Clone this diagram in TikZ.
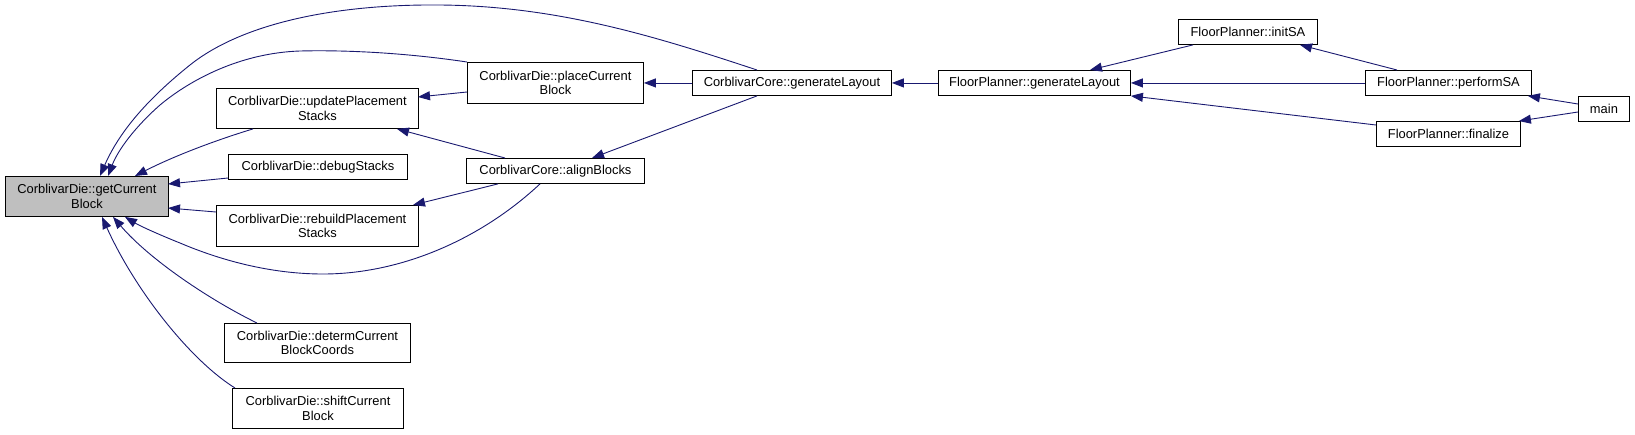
\documentclass[tikz,border=0pt]{standalone}
\usepackage{fontspec}
\setmainfont{Liberation Sans}
\usetikzlibrary{arrows.meta,calc}
\definecolor{edgeblue}{HTML}{191970}
\definecolor{boxgray}{HTML}{BFBFBF}
\begin{document}
\begin{tikzpicture}[x=1pt,y=-1pt,
  box/.style={draw=black, line width=0.9pt, fill=white, inner sep=0pt, align=center,
    font=\fontsize{12.9}{14.5}\selectfont, anchor=north west},
  edge/.style={draw=edgeblue, line width=0.9pt, -{Triangle[length=12pt,width=9pt]}}]
\useasboundingbox (0,0) rectangle (1635,434);

\node[box, fill=boxgray, minimum width=163pt, minimum height=40pt] (gc) at (5,176) {CorblivarDie::getCurrent\\Block};
\node[box, minimum width=202pt, minimum height=40pt] (up) at (216,88) {CorblivarDie::updatePlacement\\Stacks};
\node[box, minimum width=179pt, minimum height=25pt] (dbg) at (228,154) {CorblivarDie::debugStacks};
\node[box, minimum width=202pt, minimum height=41pt] (rb) at (216,205) {CorblivarDie::rebuildPlacement\\Stacks};
\node[box, minimum width=186pt, minimum height=39pt] (dc) at (224,323) {CorblivarDie::determCurrent\\BlockCoords};
\node[box, minimum width=171pt, minimum height=40pt] (sc) at (232,388) {CorblivarDie::shiftCurrent\\Block};
\node[box, minimum width=176pt, minimum height=41pt] (pc) at (467,62) {CorblivarDie::placeCurrent\\Block};
\node[box, minimum width=178pt, minimum height=25pt] (ab) at (466,158) {CorblivarCore::alignBlocks};
\node[box, minimum width=199pt, minimum height=25pt] (cg) at (692,70) {CorblivarCore::generateLayout};
\node[box, minimum width=192pt, minimum height=25pt] (fg) at (938,70) {FloorPlanner::generateLayout};
\node[box, minimum width=139pt, minimum height=25pt] (is) at (1178,19) {FloorPlanner::initSA};
\node[box, minimum width=166pt, minimum height=25pt] (ps) at (1365,70) {FloorPlanner::performSA};
\node[box, minimum width=144pt, minimum height=25pt] (fi) at (1376,121) {FloorPlanner::finalize};
\node[box, minimum width=51pt, minimum height=25pt] (mn) at (1578,96) {main};

% edges into getCurrentBlock
\draw[edge] ($(cg.north west)+(65,0)$) .. controls (660,38) and (560,6) .. (440,5)
  .. controls (330,4) and (240,25) .. (190,65)
  .. controls (150,97) and (120,130) .. ($(gc.north west)+(95,0)$);
\draw[edge] (pc.north west) .. controls (400,52) and (340,50) .. (300,51)
  .. controls (240,53) and (190,80) .. (160,105)
  .. controls (135,127) and (118,150) .. ($(gc.north west)+(103,0)$);
\draw[edge] ($(up.south west)+(37,0)$) .. controls (210,142) and (170,158) .. ($(gc.north west)+(130,0)$);
\draw[edge] ($(dbg.north west)+(0,24)$) -- ($(gc.north west)+(163,8)$);
\draw[edge] ($(rb.north west)+(0,7)$) -- ($(gc.north west)+(163,32)$);
\draw[edge] ($(ab.south west)+(74,0)$) .. controls (480,240) and (400,274) .. (323,274)
  .. controls (270,274) and (220,260) .. (180,243)
  .. controls (160,235) and (140,226) .. ($(gc.south west)+(120,0)$);
\draw[edge] ($(dc.north west)+(33,0)$) .. controls (210,300) and (150,260) .. ($(gc.south west)+(108,0)$);
\draw[edge] ($(sc.north west)+(3,0)$) .. controls (190,360) and (135,290) .. ($(gc.south west)+(97,0)$);

% middle edges
\draw[edge] ($(pc.north west)+(0,30)$) -- ($(up.north west)+(202,9)$);
\draw[edge] ($(ab.north west)+(39,0)$) -- ($(up.south west)+(181,0)$);
\draw[edge] ($(ab.south west)+(32,0)$) -- ($(rb.north west)+(197,0)$);
\draw[edge] (cg.west) -- (pc.east);
\draw[edge] ($(cg.south west)+(65,0)$) -- ($(ab.north west)+(126,0)$);
\draw[edge] (fg.west) -- (cg.east);

% right edges
\draw[edge] ($(is.south west)+(15,0)$) -- ($(fg.north west)+(152,0)$);
\draw[edge] (ps.west) -- (fg.east);
\draw[edge] ($(fi.north west)+(0,4)$) -- (fg.south east);
\draw[edge] ($(ps.north west)+(32,0)$) -- ($(is.south west)+(122,0)$);
\draw[edge] ($(mn.north west)+(0,8)$) -- ($(ps.south east)+(-4,0)$);
\draw[edge] ($(mn.north west)+(0,16)$) -- ($(fi.north east)+(-2,0)$);
\end{tikzpicture}
\end{document}
